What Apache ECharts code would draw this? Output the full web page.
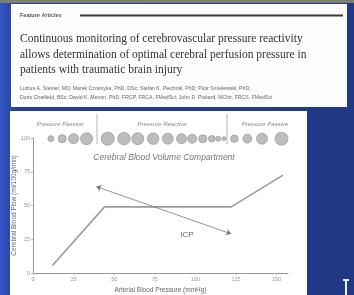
<!DOCTYPE html>
<html>
<head>
<meta charset="utf-8">
<title>CBF autoregulation</title>
<style>
  html, body { margin: 0; padding: 0; overflow: hidden; }
  #chart { width: 354px; height: 295px; }
</style>
</head>
<body>
<div id="chart"></div>
<script src="https://cdn.jsdelivr.net/npm/echarts@6/dist/echarts.min.js"></script>
<script>
// data
var xTicks = [0, 25, 50, 75, 100, 125, 150];
var yTicks = [0, 25, 50, 75, 100];
var cbfCurve = [[12, 5.5], [44, 49], [122, 49], [154, 72.5]];
var icpStart = [39, 64];
var icpEnd = [122, 29];
// blood volume circles (x position, diameter)
var circleX = [11, 18, 25, 33, 46, 56, 64.5, 74, 83, 91.5, 98, 104.5, 110, 114, 117.5, 124, 132, 141, 153];
var circleSize = [6, 8, 10, 12, 13, 12.5, 12, 11.5, 11, 10, 9, 8, 6.5, 5, 4, 7.5, 9, 11, 13];

var titleLines = [
  'Continuous monitoring of cerebrovascular pressure reactivity',
  'allows determination of optimal cerebral perfusion pressure in',
  'patients with traumatic brain injury'
];
var authorLines = [
  'Luzius A. Steiner, MD; Marek Czosnyka, PhD, DSc; Stefan K. Piechnik, PhD; Piotr Smielewski, PhD;',
  'Doris Chatfield, BSc; David K. Menon, PhD, FRCP, FRCA, FMedSci; John D. Pickard, MChir, FRCS, FMedSci'
];

var chart = echarts.init(document.getElementById('chart'));
var sans = 'Liberation Sans';

var graphics = [
  // slide background
  { type: 'rect', z: -10, shape: { x: 0, y: 0, width: 354, height: 295 },
    style: { fill: new echarts.graphic.LinearGradient(0, 0, 1, 0, [
      { offset: 0, color: '#3556c4' }, { offset: 0.05, color: '#243f98' },
      { offset: 1, color: '#213886' }]) } },
  { type: 'rect', z: -9, shape: { x: 0, y: 0, width: 354, height: 3 }, style: { fill: '#7c7f6a' } },
  // paper clipping
  { type: 'rect', z: -8, shape: { x: 11, y: 4, width: 336, height: 103 }, style: { fill: '#fdfdfd' } },
  { type: 'text', z: -7, left: 20, top: 12, style: { text: 'Feature Articles', font: 'bold 5.5px ' + sans, fill: '#555' } },
  { type: 'rect', z: -7, shape: { x: 80, y: 14.5, width: 263, height: 2 }, style: { fill: '#3a3a3a' } },
  // chart panel
  { type: 'rect', z: -8, shape: { x: 10, y: 111, width: 297, height: 184 }, style: { fill: '#ffffff' } },
  { type: 'line', z: -7, shape: { x1: 97, y1: 114, x2: 97, y2: 144 }, style: { stroke: '#b5b5b5', lineWidth: 1 } },
  { type: 'line', z: -7, shape: { x1: 227, y1: 114, x2: 227, y2: 144 }, style: { stroke: '#b5b5b5', lineWidth: 1 } },
  { type: 'text', z: -7, x: 60, y: 124, style: { text: 'Pressure Passive', font: 'italic 6px ' + sans, fill: '#888', align: 'center', verticalAlign: 'middle' } },
  { type: 'text', z: -7, x: 162, y: 124, style: { text: 'Pressure Reactive', font: 'italic 6px ' + sans, fill: '#888', align: 'center', verticalAlign: 'middle' } },
  { type: 'text', z: -7, x: 265, y: 124, style: { text: 'Pressure Passive', font: 'italic 6px ' + sans, fill: '#888', align: 'center', verticalAlign: 'middle' } },
  { type: 'text', z: -7, x: 164, y: 158, style: { text: 'Cerebral Blood Volume Compartment', font: 'italic 8.5px ' + sans, fill: '#777', align: 'center', verticalAlign: 'middle' } },
  { type: 'text', z: 10, x: 187, y: 235, style: { text: 'ICP', font: '8px ' + sans, fill: '#666', align: 'center', verticalAlign: 'middle' } },
  // logo glyph bottom right
  { type: 'rect', z: -7, shape: { x: 345, y: 280, width: 2, height: 15 }, style: { fill: '#e8ecf6' } },
  { type: 'rect', z: -7, shape: { x: 343, y: 279, width: 6, height: 2 }, style: { fill: '#e8ecf6' } }
];
titleLines.forEach(function (t, i) {
  graphics.push({ type: 'text', z: -7, left: 20, top: 33 + i * 15.5,
    style: { text: t, font: '11.5px "Liberation Serif"', fill: '#333' } });
});
authorLines.forEach(function (t, i) {
  graphics.push({ type: 'text', z: -7, left: 20, top: 86 + i * 9,
    style: { text: t, font: '5.2px ' + sans, fill: '#666' } });
});

var option = {
  animation: false,
  grid: { left: 33, right: 66, top: 138, bottom: 19 },
  graphic: graphics,
  xAxis: {
    type: 'value', min: xTicks[0], max: 157, interval: 25,
    name: 'Arterial Blood Pressure (mmHg)', nameLocation: 'middle', nameGap: 14, nameMoveOverlap: false,
    nameTextStyle: { fontFamily: sans, fontSize: 6.5, color: '#666' },
    axisLine: { lineStyle: { color: '#999' } },
    axisTick: { length: 2, lineStyle: { color: '#bbb' } },
    axisLabel: { fontFamily: sans, fontSize: 5.5, color: '#999', margin: 3, showMaxLabel: false },
    splitLine: { show: false }
  },
  yAxis: {
    type: 'value', min: yTicks[0], max: yTicks[yTicks.length - 1], interval: 25,
    name: 'Cerebral Blood Flow (ml/100g/min)', nameLocation: 'middle', nameGap: 15, nameMoveOverlap: false,
    nameTextStyle: { fontFamily: sans, fontSize: 6.5, color: '#666' },
    axisLine: { show: true, lineStyle: { color: '#999' } },
    axisTick: { show: true, length: 2, lineStyle: { color: '#bbb' } },
    axisLabel: { fontFamily: sans, fontSize: 5.5, color: '#999', margin: 3 },
    splitLine: { show: false }
  },
  series: [
    {
      type: 'line', data: cbfCurve, symbol: 'none', clip: false,
      lineStyle: { color: '#9c9c9c', width: 1.6 },
      markLine: {
        silent: true, symbol: ['arrow', 'arrow'], symbolSize: [5, 5],
        label: { show: false },
        lineStyle: { color: '#777', width: 0.8, type: 'solid' },
        data: [[{ coord: icpStart }, { coord: icpEnd }]]
      }
    },
    {
      type: 'scatter', clip: false, symbol: 'circle',
      data: circleX.map(function (x, i) { return { value: [x, 99.5], symbolSize: circleSize[i] }; }),
      itemStyle: { color: '#adadad', borderColor: '#8c8c8c', borderWidth: 0.8 }
    }
  ]
};
chart.setOption(option);
</script>
</body>
</html>
